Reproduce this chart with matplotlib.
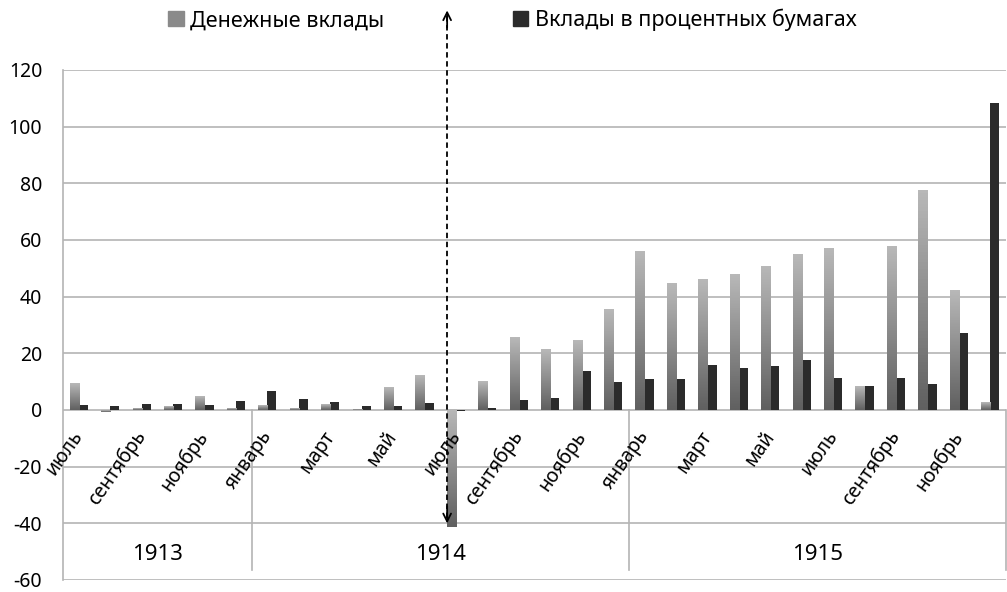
import numpy as np
import matplotlib
matplotlib.use('Agg')
import matplotlib.pyplot as plt
import matplotlib.patches as mpatches
from matplotlib.colors import LinearSegmentedColormap

plt.rcParams['font.family'] = ['Noto Sans', 'DejaVu Sans']
plt.rcParams['axes.unicode_minus'] = False

# Данные: помесячно, июль 1913 - декабрь 1915
months = ['июль', 'август', 'сентябрь', 'октябрь', 'ноябрь', 'декабрь',
          'январь', 'февраль', 'март', 'апрель', 'май', 'июнь',
          'июль', 'август', 'сентябрь', 'октябрь', 'ноябрь', 'декабрь',
          'январь', 'февраль', 'март', 'апрель', 'май', 'июнь',
          'июль', 'август', 'сентябрь', 'октябрь', 'ноябрь', 'декабрь']
years = ['1913', '1914', '1915']
months_per_year = [6, 12, 12]

cash = [9.2, -0.7, 0.7, 1.2, 4.8, 0.5, 1.6, 0.5, 2.1, 0.2, 7.8, 12.2,
        -41.4, 10.0, 25.6, 21.5, 24.6, 35.4, 55.9, 44.5, 45.9, 47.8, 50.7, 54.9,
        57.0, 8.3, 57.8, 77.3, 42.1, 2.8]
securities = [1.9, 1.5, 2.1, 2.1, 1.9, 3.2, 6.7, 3.9, 2.9, 1.5, 1.5, 2.6,
              -0.5, 0.6, 3.6, 4.3, 13.8, 9.7, 11.0, 11.0, 15.8, 14.8, 15.6, 17.7,
              11.3, 8.5, 11.3, 9.1, 27.3, 108.2]

label1 = 'Денежные вклады'
label2 = 'Вклады в процентных бумагах'

GRID = '#b4b4b4'
DARK = '#2b2b2b'

fig = plt.figure(figsize=(10.07, 5.92), dpi=100)
ax = fig.add_axes([0.0626, 0.0203, 0.9364, 0.8615])

x = np.arange(len(months))
w = 0.29
bars1 = ax.bar(x - w / 2, cash, w, color='#8a8a8a', zorder=3)
bars2 = ax.bar(x + w / 2, securities, w, color=DARK, zorder=3)

# градиент для светлых столбиков: светлее сверху, темнее снизу
cmap = LinearSegmentedColormap.from_list('g', ['#606060', '#b8b8b8'])
grad = np.linspace(0, 1, 64).reshape(-1, 1)
for b in bars1:
    bx, by, bw, bh = b.get_x(), b.get_y(), b.get_width(), b.get_height()
    b.set_facecolor('none')
    lo, hi = min(by, by + bh), max(by, by + bh)
    ax.imshow(grad, cmap=cmap, extent=[bx, bx + bw, lo, hi],
              origin='lower', aspect='auto', zorder=3)

ax.set_xlim(-0.5, len(months) - 0.5)
ax.set_ylim(-60, 120)
ax.set_yticks(range(-60, 121, 20))
ax.set_yticklabels([str(v) for v in range(-60, 121, 20)], fontsize=14)
ax.tick_params(axis='y', length=0, pad=15)
ax.set_xticks([])
ax.yaxis.grid(True, color=GRID, linewidth=1.2, zorder=0)
ax.set_axisbelow(True)
for s in ['top', 'right', 'bottom']:
    ax.spines[s].set_visible(False)
ax.spines['left'].set_color(GRID)
ax.spines['left'].set_linewidth(1.2)

# подписи месяцев (через один)
for i in range(0, len(months), 2):
    ax.text(i + 0.27, -6, months[i], rotation=55, ha='right', va='top',
            fontsize=14, zorder=4)

# подписи годов и разделители
start = 0
for yr, n in zip(years, months_per_year):
    ax.text(start + n / 2 - 0.5, -51, yr, ha='center', va='center', fontsize=16)
    start += n
    ax.plot([start - 0.5, start - 0.5], [0, -56.5], color=GRID, linewidth=1.2,
            clip_on=False, zorder=2)

# пунктирная стрелка - июль 1914
war = 12
ax_x = war - 0.28
ax.plot([ax_x, ax_x], [-38, 140], color='black', linestyle=(0, (3, 2)),
        linewidth=1.3, clip_on=False, zorder=5)
ax.annotate('', xy=(ax_x, 142), xytext=(ax_x, 134),
            arrowprops=dict(arrowstyle='->', color='black', lw=1.3,
                            mutation_scale=14), annotation_clip=False)
ax.annotate('', xy=(ax_x, -41), xytext=(ax_x, -33),
            arrowprops=dict(arrowstyle='->', color='black', lw=1.3,
                            mutation_scale=14), annotation_clip=False)

light_patch = mpatches.Patch(color='#8a8a8a', label=label1)
dark_patch = mpatches.Patch(color=DARK, label=label2)
fig.legend(handles=[light_patch, dark_patch], loc='center',
           bbox_to_anchor=(0.509, 0.966), ncol=2, frameon=False,
           fontsize=15.5, handlelength=0.7, handleheight=0.7,
           handletextpad=0.3, columnspacing=6.0)

fig.savefig('out.png', dpi=100)
